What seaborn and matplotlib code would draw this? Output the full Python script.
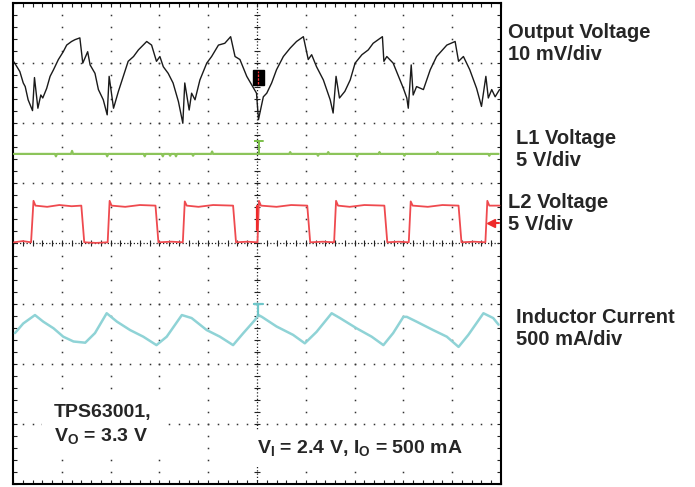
import numpy as np
import pandas as pd
import seaborn as sns
import matplotlib
matplotlib.use("Agg")
from matplotlib import pyplot as plt
from matplotlib.patches import Rectangle

# scope traces in divisions (x: 0-10, y: 0-8)
vout_x = [0.02, 0.14, 0.21, 0.25, 0.31, 0.40, 0.44, 0.51, 0.57, 0.61, 0.69, 0.76, 0.83, 0.93,
          1.03, 1.10, 1.20, 1.27, 1.37, 1.43, 1.53, 1.58, 1.68, 1.75, 1.85, 1.93, 1.97, 2.06,
          2.16, 2.26, 2.36, 2.47, 2.57, 2.74, 2.84, 2.94, 3.01, 3.08, 3.18, 3.28, 3.39, 3.48,
          3.52, 3.61, 3.66, 3.73, 3.83, 3.97, 4.07, 4.21, 4.34, 4.46, 4.55, 4.65, 4.79, 4.89,
          4.99, 5.03, 5.13, 5.20, 5.30, 5.40, 5.54, 5.68, 5.81, 5.95, 6.05, 6.12, 6.22, 6.36,
          6.50, 6.56, 6.62, 6.69, 6.80, 6.91, 7.01, 7.15, 7.28, 7.38, 7.57, 7.60, 7.66, 7.79,
          7.90, 8.00, 8.07, 8.10, 8.16, 8.20, 8.27, 8.41, 8.55, 8.68, 8.89, 9.06, 9.13, 9.23,
          9.36, 9.50, 9.60, 9.69, 9.74, 9.81, 9.88, 9.97]
vout_y = [7.02, 6.86, 6.67, 6.61, 6.39, 6.21, 6.76, 6.25, 6.47, 6.42, 6.58, 6.78, 6.89, 7.06,
          7.19, 7.30, 7.36, 7.39, 7.42, 7.00, 7.19, 6.97, 6.83, 6.56, 6.39, 6.14, 6.78, 6.25,
          6.53, 6.78, 7.03, 7.11, 7.22, 7.36, 7.30, 7.03, 7.11, 6.94, 6.83, 6.67, 6.36, 6.00,
          6.67, 6.22, 6.50, 6.39, 6.72, 7.00, 7.11, 7.30, 7.33, 7.44, 7.11, 7.06, 6.78, 6.64,
          6.50, 6.06, 6.44, 6.50, 6.67, 6.89, 7.11, 7.25, 7.36, 7.44, 7.06, 7.14, 6.94, 6.72,
          6.39, 6.17, 6.78, 6.42, 6.53, 6.72, 7.00, 7.14, 7.22, 7.33, 7.44, 7.03, 7.11, 7.00,
          6.78, 6.58, 6.42, 6.25, 6.97, 6.47, 6.61, 6.56, 6.89, 7.11, 7.30, 7.36, 7.03, 7.11,
          6.89, 6.58, 6.28, 6.78, 6.42, 6.56, 6.44, 6.56]

l1_x = [0.02, 0.86, 0.88, 0.90, 1.19, 1.21, 1.23, 1.91, 1.93, 1.95, 2.68, 2.70, 2.72,
        3.05, 3.07, 3.09, 3.20, 3.22, 3.24, 3.32, 3.34, 3.36, 3.67, 3.69, 3.71, 4.06, 4.08,
        4.10, 5.66, 5.68, 5.70, 6.23, 6.25, 6.27, 6.44, 6.46, 6.48, 7.03, 7.05, 7.07, 7.49,
        7.51, 7.53, 8.00, 8.02, 8.04, 8.68, 8.70, 8.72, 9.74, 9.76, 9.78, 9.95]
l1_y = [5.49, 5.49, 5.45, 5.49, 5.49, 5.54, 5.49, 5.49, 5.45, 5.49, 5.49, 5.45, 5.49,
        5.49, 5.45, 5.49, 5.49, 5.46, 5.49, 5.49, 5.45, 5.49, 5.49, 5.46, 5.49, 5.49, 5.53,
        5.49, 5.49, 5.52, 5.49, 5.49, 5.46, 5.49, 5.49, 5.52, 5.49, 5.49, 5.45, 5.49, 5.49,
        5.52, 5.49, 5.49, 5.46, 5.49, 5.49, 5.52, 5.49, 5.49, 5.46, 5.49, 5.49]

l2_x = [0.02, 0.20, 0.37, 0.42, 0.46, 0.70, 0.95, 1.20, 1.40, 1.46, 1.70, 1.94, 1.98, 2.02,
        2.30, 2.60, 2.92, 2.98, 3.25, 3.48, 3.52, 3.56, 3.80, 4.10, 4.51, 4.57, 4.80, 5.01,
        5.04, 5.08, 5.40, 5.70, 6.03, 6.09, 6.35, 6.58, 6.62, 6.66, 6.90, 7.20, 7.61, 7.67,
        7.90, 8.11, 8.15, 8.19, 8.50, 8.80, 9.13, 9.19, 9.45, 9.68, 9.72, 9.76, 9.97]
l2_y = [4.02, 4.04, 4.02, 4.71, 4.63, 4.61, 4.64, 4.62, 4.63, 4.02, 4.01, 4.02, 4.71, 4.63,
        4.61, 4.64, 4.63, 4.02, 4.03, 4.02, 4.70, 4.63, 4.61, 4.64, 4.63, 4.02, 4.03, 4.02,
        4.71, 4.63, 4.61, 4.64, 4.63, 4.02, 4.03, 4.02, 4.71, 4.63, 4.61, 4.64, 4.63, 4.02,
        4.03, 4.02, 4.70, 4.63, 4.61, 4.64, 4.63, 4.02, 4.03, 4.02, 4.71, 4.63, 4.63]

il_x = [0.04, 0.21, 0.45, 0.62, 0.83, 1.03, 1.24, 1.48, 1.68, 1.92, 2.13, 2.40, 2.67, 2.94,
        3.15, 3.46, 3.66, 3.97, 4.24, 4.51, 4.72, 4.96, 5.03, 5.10, 5.40, 5.74, 5.98, 6.22,
        6.53, 6.70, 7.04, 7.35, 7.59, 7.79, 8.00, 8.07, 8.27, 8.61, 8.89, 9.13, 9.33, 9.64,
        9.84, 9.95]
il_y = [2.51, 2.67, 2.81, 2.70, 2.59, 2.45, 2.37, 2.35, 2.51, 2.84, 2.70, 2.56, 2.45, 2.31,
        2.45, 2.81, 2.76, 2.56, 2.45, 2.31, 2.51, 2.73, 2.81, 2.78, 2.62, 2.48, 2.34, 2.53,
        2.84, 2.76, 2.59, 2.45, 2.31, 2.51, 2.78, 2.78, 2.70, 2.56, 2.45, 2.28, 2.48, 2.84,
        2.76, 2.65]

labels = ["Output Voltage\n10 mV/div", "L1 Voltage\n5 V/div",
          "L2 Voltage\n5 V/div", "Inductor Current\n500 mA/div"]

sns.set_style("white")
plt.rcParams["font.family"] = ["Liberation Sans", "DejaVu Sans"]
plt.rcParams["mathtext.fontset"] = "custom"
plt.rcParams["mathtext.rm"] = "Liberation Sans:bold"
plt.rcParams["mathtext.default"] = "rm"

W, H = 695, 487
fig = plt.figure(figsize=(W / 100, H / 100), dpi=100)
ax = fig.add_axes([13 / W, 3 / H, 488 / W, 481 / H])
ax.set_xlim(0, 10)
ax.set_ylim(0, 8)

# graticule
gx = np.arange(0, 10.01, 0.2)
gy = np.arange(0, 8.01, 0.2)
for v in [1, 2, 3, 4, 6, 7, 8, 9]:
    ax.plot(np.full(len(gy), v), gy, ls="none", marker="s", ms=1.1, mew=0,
            color="#333333", zorder=1)
for h in [1, 2, 3, 5, 6, 7]:
    ax.plot(gx, np.full(len(gx), h), ls="none", marker="s", ms=1.1, mew=0,
            color="#333333", zorder=1)
ax.axvline(5, ls=(0, (1, 1.6)), lw=0.9, color="#222222", zorder=1)
ax.axhline(4, ls=(0, (1, 1.6)), lw=0.9, color="#222222", zorder=1)
ax.plot(gx, np.full(len(gx), 4), ls="none", marker="|", ms=4, mew=0.8,
        color="#222222", zorder=1)
ax.plot(np.full(len(gy), 5), gy, ls="none", marker="_", ms=4, mew=0.8,
        color="#222222", zorder=1)

ax.set_xticks(range(0, 11))
ax.set_yticks(range(0, 9))
ax.set_xticks(gx, minor=True)
ax.set_yticks(gy, minor=True)
ax.tick_params(which="both", direction="in", length=3, width=0.8,
               top=True, right=True, bottom=True, left=True,
               labelbottom=False, labelleft=False, color="#222222")
for s in ax.spines.values():
    s.set_linewidth(1.5)
    s.set_color("black")

# traces
sns.lineplot(x=il_x, y=il_y, ax=ax, color="#8fd3d6", lw=1.8, sort=False,
             estimator=None, zorder=3)
sns.lineplot(x=l2_x, y=l2_y, ax=ax, color="#ef4a4f", lw=1.3, sort=False,
             estimator=None, zorder=3)
sns.lineplot(x=l1_x, y=l1_y, ax=ax, color="#8cc45a", lw=1.6, sort=False,
             estimator=None, zorder=3)
sns.lineplot(x=vout_x, y=vout_y, ax=ax, color="#1a1a1a", lw=1.0, sort=False,
             estimator=None, zorder=3)

# channel / trigger markers
ax.add_patch(Rectangle((4.92, 6.64), 0.22, 0.25, color="black", zorder=4))
ax.plot([5.03, 5.03], [6.66, 6.87], color="#ff3030", lw=0.9, ls=(0, (2, 1)), zorder=5)
ax.plot([5.04, 5.04, 4.96, 5.12], [5.49, 5.70, 5.70, 5.70], color="#7cbf4a", lw=1.4, zorder=4)
ax.plot([5.03, 5.03, 4.94, 5.12], [2.81, 3.00, 3.00, 3.00], color="#6fc6c9", lw=1.6, zorder=4)
ax.plot([5.01, 5.01], [4.23, 4.62], color="#ee2a2a", lw=1.6, zorder=4)
ax.plot([9.80, 9.95], [4.34, 4.34], color="#ee2a2a", lw=1.5, zorder=4)
ax.plot([9.80], [4.34], marker="<", ms=6, color="#ee2a2a", zorder=4)

ax.set(xlabel="", ylabel="")

# channel labels (baseline of second line)
lab_pos = [(508, 60), (516, 166), (508, 230), (516, 345)]
for (px, py), t in zip(lab_pos, labels):
    fig.text(px / W, 1 - py / H, t, fontsize=14.5, fontweight="bold",
             va="baseline", ha="left", linespacing=1.2)

ax.text(0.84, 0.64, "TPS63001,\nV$_{O}$ = 3.3 V", fontsize=14, fontweight="bold",
        ha="left", va="bottom", linespacing=1.3, zorder=6,
        bbox=dict(facecolor="white", edgecolor="none", pad=9))
ax.text(5.0, 0.44, "V$_{I}$ = 2.4 V, I$_{O}$ = 500 mA", fontsize=14, fontweight="bold",
        ha="left", va="bottom", zorder=6,
        bbox=dict(facecolor="white", edgecolor="none", pad=5))

plt.savefig("out.png", dpi=100)
